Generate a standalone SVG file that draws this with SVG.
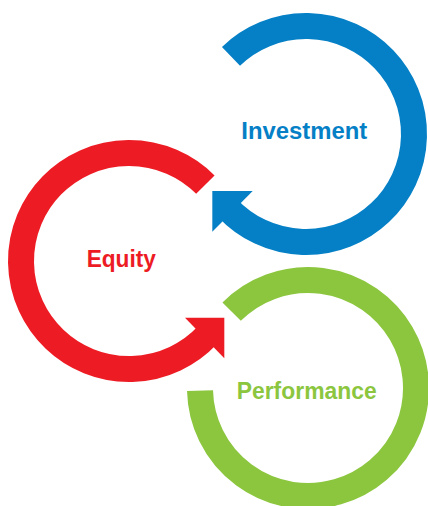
<svg xmlns="http://www.w3.org/2000/svg" width="428" height="506" viewBox="0 0 428 506">
<style>
.ring{fill:none;stroke-width:26;stroke-linecap:butt}
.lbl{font-family:"Liberation Sans",Arial,sans-serif;font-weight:bold;font-size:23px;text-anchor:middle}
</style>
<rect width="428" height="506" fill="#ffffff"/>
<g id="connectors">
<path id="blue-arrowhead" d="M252.7,191 L212.3,191 L212.3,231.7 Z" fill="#0580C6"/>
<path id="red-arrowhead" d="M185,317.7 L224.3,317.7 L224.3,358.3 Z" fill="#ED1C24"/>
</g>
<g id="investment">
<path class="ring" stroke="#0580C6" d="M230.98,56.31 A108,108 0 1 1 227.0,207.66"/>
<text class="lbl" x="304.3" y="139" fill="#0580C6" textLength="126" lengthAdjust="spacingAndGlyphs">Investment</text>
</g>
<g id="equity">
<path class="ring" stroke="#ED1C24" d="M205.37,184.63 A108,108 0 1 0 207.99,334.66"/>
<text class="lbl" x="121.3" y="267" fill="#ED1C24" textLength="69.3" lengthAdjust="spacingAndGlyphs">Equity</text>
</g>
<g id="performance">
<path class="ring" stroke="#8CC63F" d="M231.63,311.63 A108,108 0 1 1 200.03,390.64"/>
<text class="lbl" x="306.7" y="399" fill="#8CC63F" textLength="140" lengthAdjust="spacingAndGlyphs">Performance</text>
</g>
</svg>
